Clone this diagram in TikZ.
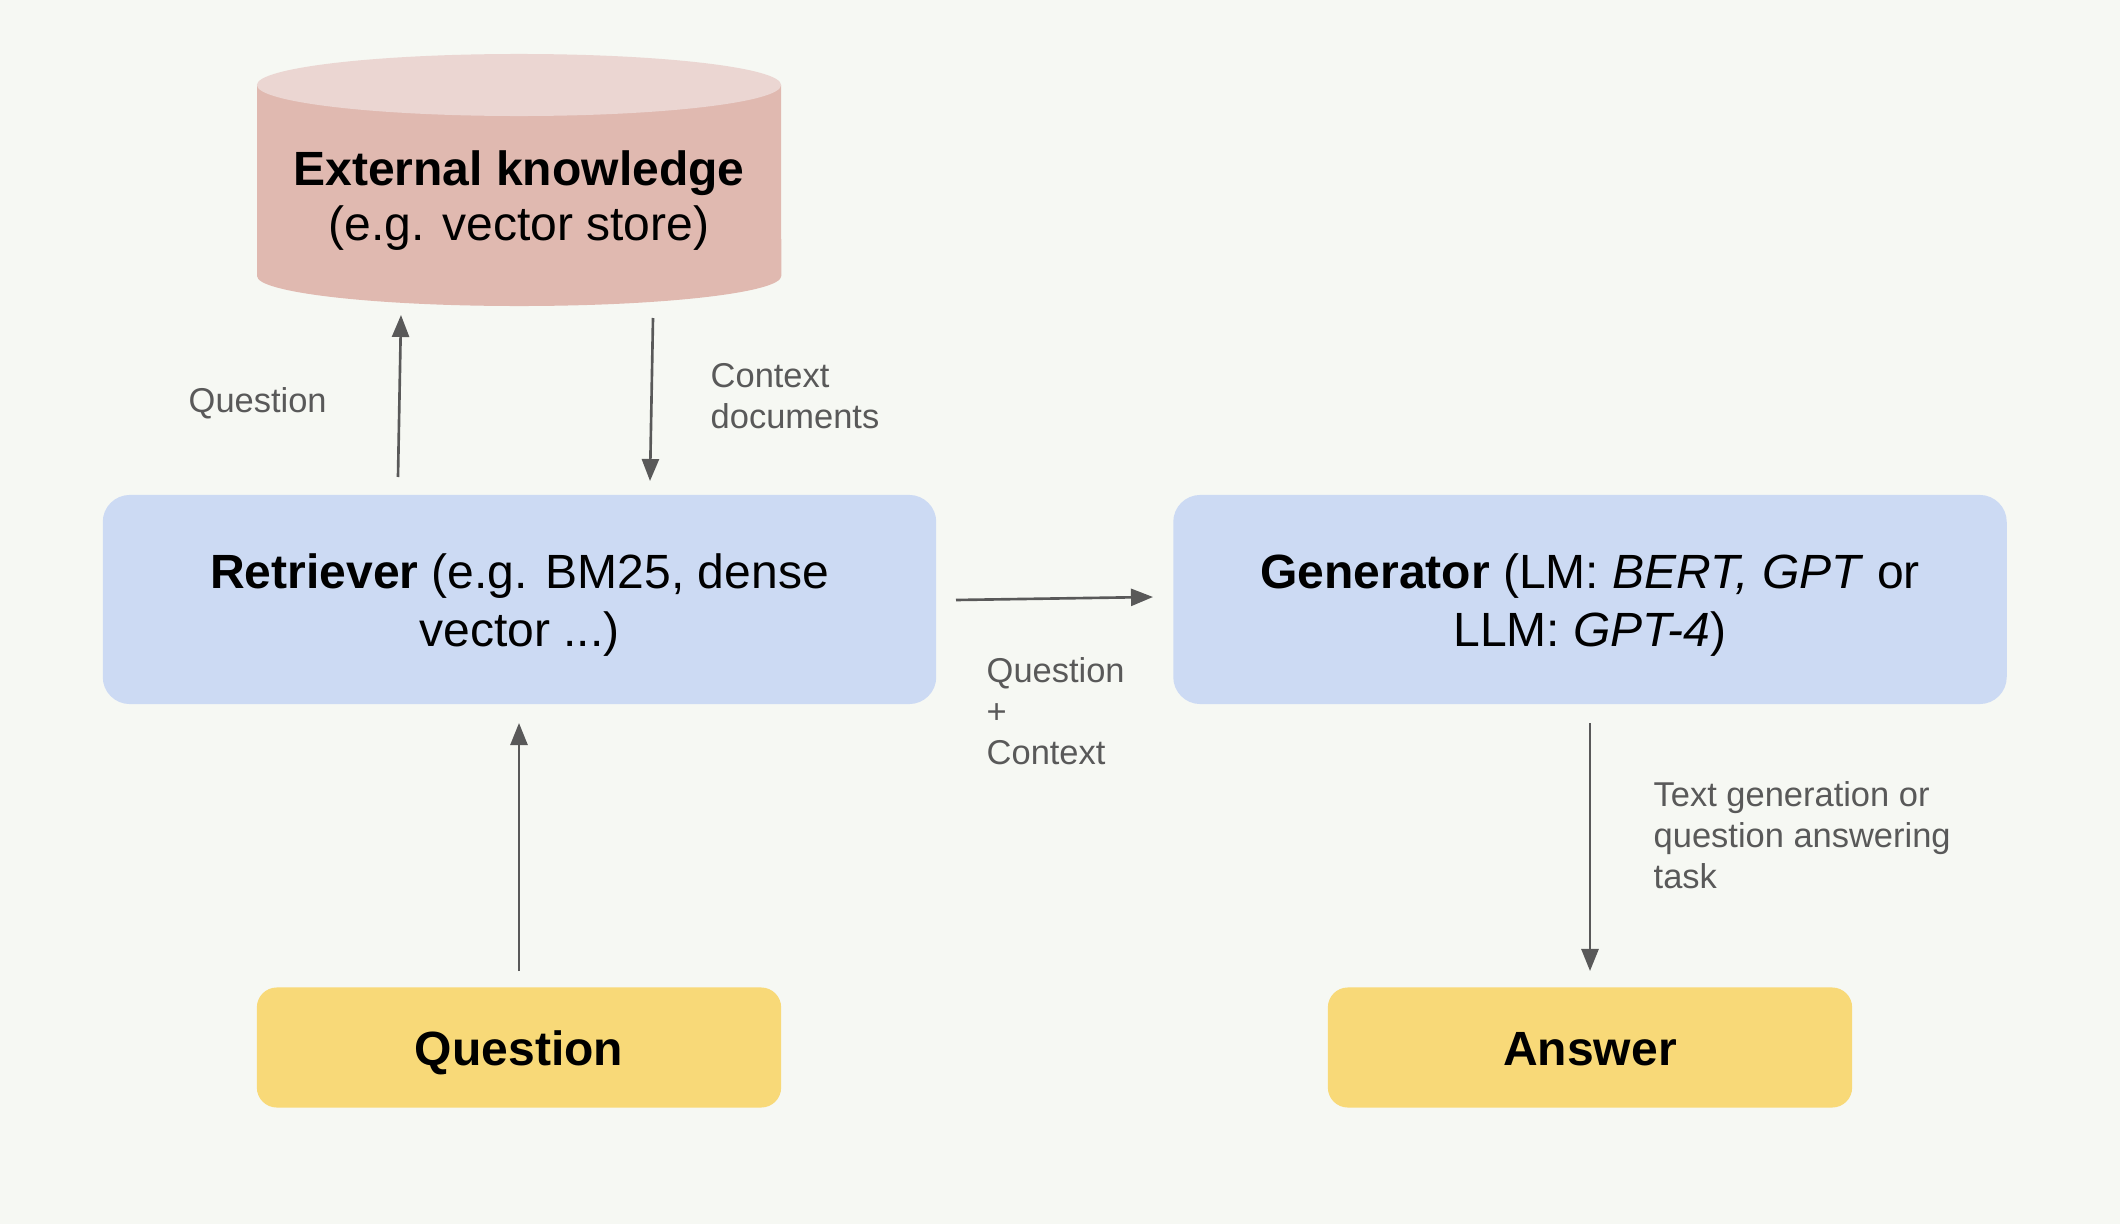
\documentclass[tikz,border=0pt]{standalone}
\usepackage{fontspec}
\setmainfont{Liberation Sans}
\usetikzlibrary{arrows.meta,calc}
\definecolor{bgc}{HTML}{F6F8F3}
\definecolor{cylbody}{HTML}{E0B9B0}
\definecolor{cyltop}{HTML}{EBD6D2}
\definecolor{bluec}{HTML}{CCDAF3}
\definecolor{yellowc}{HTML}{F8D978}
\definecolor{arrowc}{HTML}{595959}
\definecolor{labelc}{HTML}{595959}
\newcommand\mainsize{\fontsize{13.66pt}{16.4pt}\selectfont}
\newcommand\cylsize{\fontsize{13.66pt}{15.6pt}\selectfont}
\newcommand\lblsize{\fontsize{9.8pt}{11.7pt}\selectfont}
\begin{document}
\begin{tikzpicture}[x=0.01cm,y=-0.01cm,
  arr/.style={draw=arrowc, line width=0.75pt, -{Triangle[length=0.22cm,width=0.17cm]}},
  bigbox/.style={rounded corners=0.27cm, inner sep=0, fill=bluec, minimum width=8.33cm, minimum height=2.09cm},
  smallbox/.style={rounded corners=0.2cm, inner sep=0, fill=yellowc, minimum width=5.24cm, minimum height=1.2cm},
  maintext/.style={inner sep=0, align=center, font=\mainsize},
  smalltext/.style={inner sep=0, font=\mainsize\bfseries, text height=0.35cm, text depth=0cm},
  lbl/.style={anchor=west, align=left, inner sep=0, text=labelc, font=\lblsize}]
\useasboundingbox (0,0) rectangle (2120,1224);
\fill[bgc] (0,0) rectangle (2120,1224);

% cylinder
\fill[cylbody] (257,85) -- (257,276) arc[start angle=180,end angle=360,x radius=2.62cm,y radius=0.30cm] -- (781,85) -- cycle;
\fill[cyltop] (519,85) ellipse[x radius=2.62cm, y radius=0.31cm];
\node[align=center, font=\cylsize, inner sep=0] (ext) at (519,201) {\textbf{External knowledge}\\(e.g. vector store)};

% boxes
\node[bigbox] (ret) at (519.5,599.5) {};
\node[maintext] (rett) at (519.5,605) {\textbf{Retriever} (e.g. BM25, dense\\vector ...)};
\node[bigbox] (gen) at (1590,599.5) {};
\node[maintext] (gent) at (1590,605) {\textbf{Generator} (LM: \textit{BERT, GPT} or\\LLM: \textit{GPT-4})};
\node[smallbox] (q) at (519,1047.5) {};
\node[smalltext] (qt) at (519,1047.5) {Question};
\node[smallbox] (ans) at (1590,1047.5) {};
\node[smalltext] (anst) at (1590,1047.5) {Answer};

% arrow end points
\coordinate (q1) at (398,477); \coordinate (q2) at (401,315);
\coordinate (c1) at (653,318); \coordinate (c2) at (650,481);
\coordinate (r1) at (956,600); \coordinate (r2) at (1153,597);
\coordinate (b1) at (519,971); \coordinate (b2) at (519,723);
\coordinate (g1) at (1590,723); \coordinate (g2) at (1590,971);

\draw[arr] (q1) -- (q2);
\draw[arr] (c1) -- (c2);
\draw[arr] (r1) -- (r2);
\draw[arr] (b1) -- (b2);
\draw[arr] (g1) -- (g2);

% labels
\node[lbl] (lq) at (188,403) {Question};
\node[lbl] (lcd) at (710,396) {Context\\documents};
\node[lbl] (lqc) at (986,711) {Question\\+\\Context};
\node[lbl] (ltg) at (1653,835) {Text generation or\\question answering\\task};
\end{tikzpicture}
\end{document}
